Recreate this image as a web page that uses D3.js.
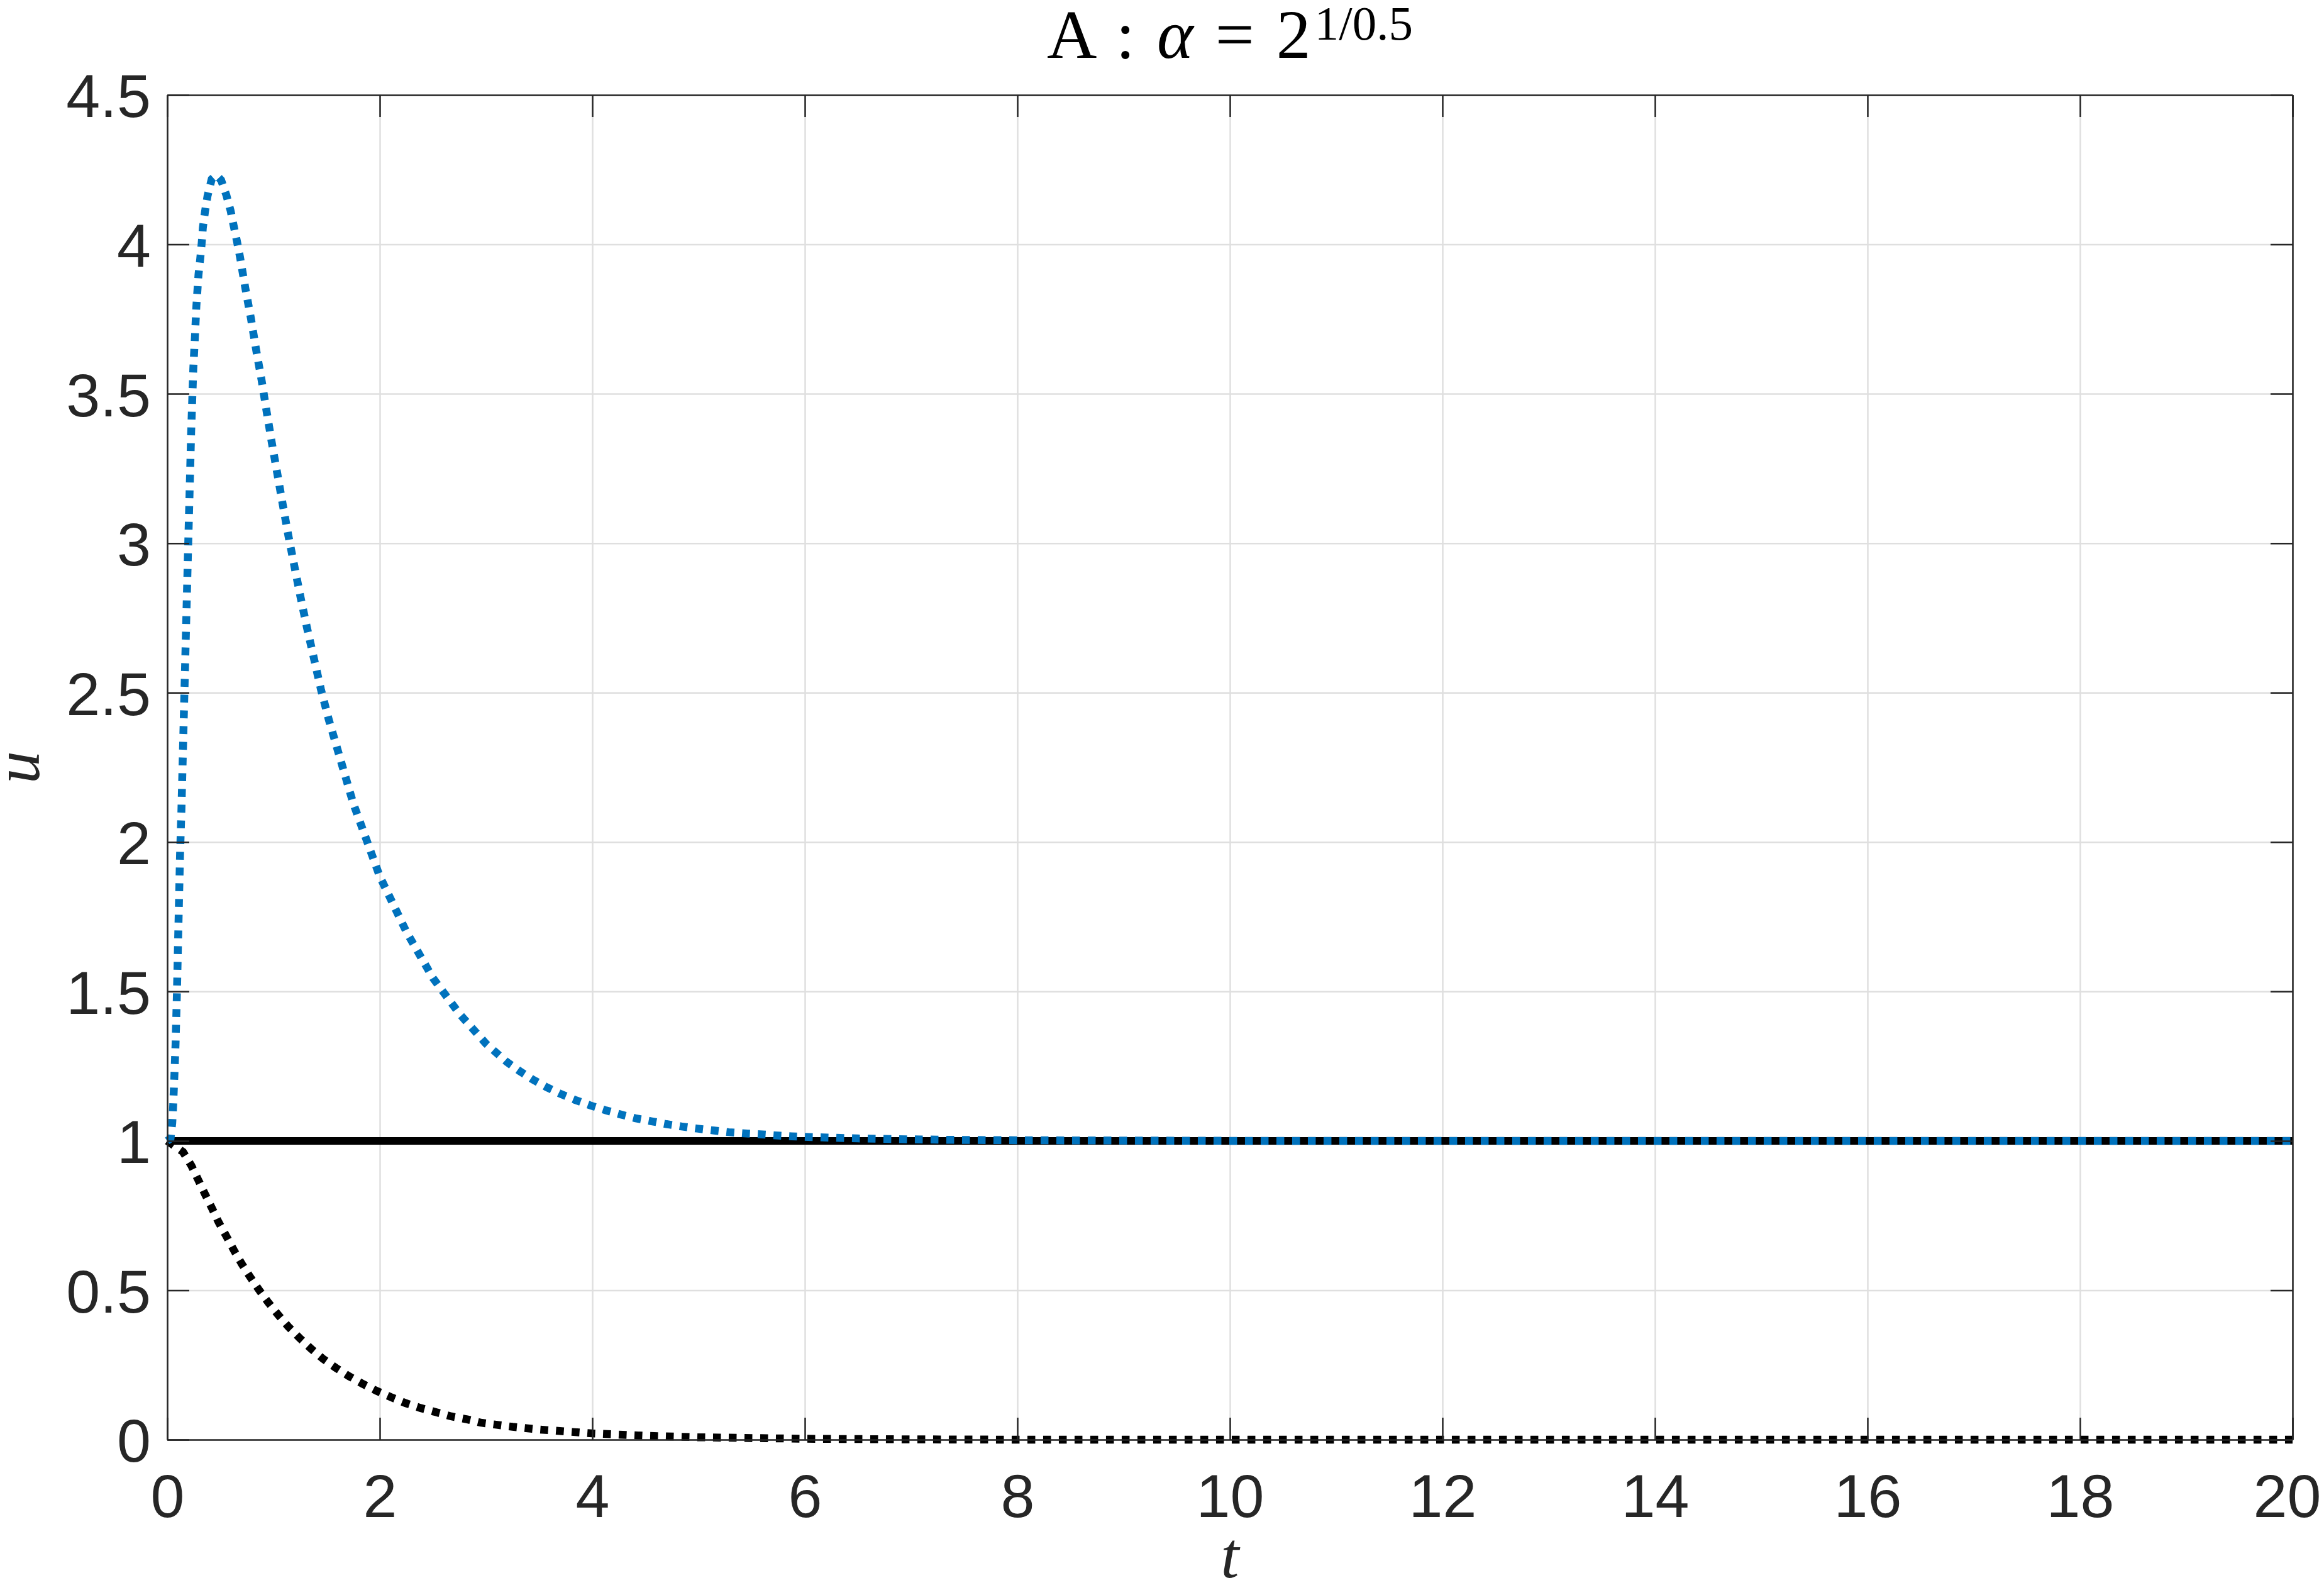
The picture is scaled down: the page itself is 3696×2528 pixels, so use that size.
<!DOCTYPE html>
<html>
<head>
<meta charset="utf-8">
<script src="https://cdn.jsdelivr.net/npm/d3@7"></script>
<style>
  body { margin: 0; background: #fff; }
</style>
</head>
<body>
<div id="chart"></div>
<script>
const width = 3696;
const height = 2528;
const margin = { top: 151, right: 50, bottom: 239, left: 266 };

// tick values
const xTicks = [0, 2, 4, 6, 8, 10, 12, 14, 16, 18, 20];
const yTicks = [0, 0.5, 1, 1.5, 2, 2.5, 3, 3.5, 4, 4.5];

// blue dotted curve
const tBlue = [0, 0.031, 0.047, 0.055, 0.067, 0.078, 0.090, 0.100, 0.110, 0.120, 0.133,
    0.150, 0.170, 0.190, 0.210, 0.225, 0.235, 0.245, 0.260, 0.274, 0.294, 0.310, 0.324,
    0.335, 0.355, 0.379, 0.418, 0.462, 0.507, 0.556, 0.596, 0.625, 0.655, 0.684, 0.734,
    0.787, 0.836, 0.888, 0.935, 0.984, 1.036, 1.087, 1.140, 1.197, 1.254, 1.315, 1.380,
    1.446, 1.519, 1.75, 2.0, 2.25, 2.5, 2.75, 3.0, 3.195, 3.314, 3.440, 3.568, 3.702,
    3.838, 3.978, 4.120, 4.260, 4.402, 4.550, 4.698, 4.842, 4.988, 5.136, 5.284, 5.432,
    5.580, 5.728, 5.876, 6.030, 6.5, 7, 7.5, 8, 9, 10, 20];
const uBlue = [1, 1.008, 1.060, 1.113, 1.218, 1.323, 1.481, 1.639, 1.796, 1.954, 2.103,
    2.34, 2.62, 2.90, 3.17, 3.373, 3.479, 3.584, 3.688, 3.794, 3.899, 3.951, 4.004,
    4.056, 4.109, 4.162, 4.218, 4.232, 4.215, 4.165, 4.113, 4.062, 4.012, 3.959, 3.855,
    3.753, 3.648, 3.545, 3.441, 3.336, 3.232, 3.129, 3.025, 2.922, 2.820, 2.717, 2.615,
    2.511, 2.411, 2.13, 1.885, 1.70, 1.545, 1.425, 1.325, 1.264, 1.234, 1.205, 1.180, 1.157,
    1.137, 1.119, 1.103, 1.089, 1.076, 1.066, 1.056, 1.048, 1.041, 1.035, 1.029, 1.025,
    1.022, 1.018, 1.015, 1.013, 1.008, 1.005, 1.003, 1.002, 1.001, 1, 1];

// black dotted curve
const tBlack = [0, 0.148, 0.227, 0.292, 0.355, 0.420, 0.483, 0.556, 0.627, 0.700, 0.779,
    0.864, 0.951, 1.041, 1.140, 1.243, 1.351, 1.465, 1.588, 1.712, 1.838, 1.972, 2.107,
    2.245, 2.383, 2.529, 2.673, 2.821, 2.949, 3.25, 3.5, 4, 4.5, 5, 6, 7, 8, 20];
const uBlack = [1, 0.963, 0.917, 0.869, 0.822, 0.775, 0.728, 0.681, 0.634, 0.589, 0.545,
    0.501, 0.459, 0.419, 0.378, 0.341, 0.305, 0.271, 0.240, 0.212, 0.187, 0.163, 0.142,
    0.122, 0.106, 0.092, 0.078, 0.068, 0.057, 0.043, 0.034, 0.021, 0.013, 0.008, 0.003,
    0.001, 0, 0];

// black solid line
const tSteady = [0, 20];
const uSteady = [1, 1];

const axisColor = "#262626";
const tickFont = "'Liberation Sans', Arial, Helvetica, sans-serif";
const mathFont = "'Liberation Serif', 'Times New Roman', serif";

const svg = d3.select("#chart")
    .append("svg")
    .attr("width", width)
    .attr("height", height);

const x = d3.scaleLinear()
    .domain([0, 20])
    .range([margin.left, width - margin.right]);

const y = d3.scaleLinear()
    .domain([0, 4.5])
    .range([height - margin.bottom, margin.top]);

const plotW = x(20) - x(0);
const plotH = y(0) - y(4.5);

// grid
svg.append("g")
    .attr("transform", `translate(0,${y(0)})`)
    .call(d3.axisBottom(x).tickValues(xTicks).tickSize(-plotH).tickFormat(""))
    .call(g => g.select(".domain").remove())
    .selectAll("line").attr("stroke", "#dfdfdf").attr("stroke-width", 2.5);

svg.append("g")
    .attr("transform", `translate(${x(0)},0)`)
    .call(d3.axisLeft(y).tickValues(yTicks).tickSize(-plotW).tickFormat(""))
    .call(g => g.select(".domain").remove())
    .selectAll("line").attr("stroke", "#dfdfdf").attr("stroke-width", 2.5);

// curves
const line = d3.line()
    .x(d => x(d[0]))
    .y(d => y(d[1]));

svg.append("path")
    .datum(d3.zip(tSteady, uSteady))
    .attr("d", line)
    .attr("fill", "none")
    .attr("stroke", "#000")
    .attr("stroke-width", 12);

svg.append("path")
    .datum(d3.zip(tBlack, uBlack))
    .attr("d", line)
    .attr("fill", "none")
    .attr("stroke", "#000")
    .attr("stroke-width", 12.5)
    .attr("stroke-dasharray", "12.5,12.5");

svg.append("path")
    .datum(d3.zip(tBlue, uBlue))
    .attr("d", line)
    .attr("fill", "none")
    .attr("stroke", "#0072BD")
    .attr("stroke-width", 12.5)
    .attr("stroke-dasharray", "12.5,12.5");

// axes (box with inward ticks)
function styleAxis(g) {
    g.select(".domain").attr("stroke", axisColor).attr("stroke-width", 2.5);
    g.selectAll(".tick line").attr("stroke", axisColor).attr("stroke-width", 2.5);
    g.selectAll(".tick text")
        .attr("fill", axisColor)
        .style("font-family", tickFont)
        .style("font-size", "97px");
}

const xAxis = svg.append("g")
    .attr("transform", `translate(0,${y(0)})`)
    .call(d3.axisBottom(x).tickValues(xTicks).tickSize(-35).tickSizeOuter(0).tickPadding(54).tickFormat(d => d))
    .call(styleAxis);

// keep the last label inside the picture
xAxis.selectAll(".tick text")
    .filter(d => d === 20)
    .attr("dx", -9);

svg.append("g")
    .attr("transform", `translate(0,${y(4.5)})`)
    .call(d3.axisTop(x).tickValues(xTicks).tickSize(-35).tickSizeOuter(0).tickFormat(""))
    .call(styleAxis);

svg.append("g")
    .attr("transform", `translate(${x(0)},0)`)
    .call(d3.axisLeft(y).tickValues(yTicks).tickSize(-35).tickSizeOuter(0).tickPadding(26).tickFormat(d => d))
    .call(styleAxis)
    .selectAll(".tick text").attr("dy", "0.36em");

svg.append("g")
    .attr("transform", `translate(${x(20)},0)`)
    .call(d3.axisRight(y).tickValues(yTicks).tickSize(-35).tickSizeOuter(0).tickFormat(""))
    .call(styleAxis);

// axis labels
svg.append("text")
    .attr("x", (x(0) + x(20)) / 2)
    .attr("y", 2508)
    .attr("text-anchor", "middle")
    .style("font-family", mathFont)
    .style("font-style", "italic")
    .style("font-size", "104px")
    .attr("fill", axisColor)
    .text("t");

svg.append("text")
    .attr("transform", `translate(62,${(y(0) + y(4.5)) / 2}) rotate(-90)`)
    .attr("text-anchor", "middle")
    .style("font-family", mathFont)
    .style("font-style", "italic")
    .style("font-size", "104px")
    .attr("fill", axisColor)
    .text("u");

// title  A : α = 2^{1/0.5}
const title = svg.append("text")
    .attr("x", (x(0) + x(20)) / 2)
    .attr("y", 92)
    .attr("text-anchor", "middle")
    .style("font-family", mathFont)
    .style("font-size", "110px")
    .attr("fill", "#000");

title.append("tspan").text("A");
title.append("tspan").attr("dx", 30).text(":");
title.append("tspan").attr("dx", 35).style("font-style", "italic").text("α");
title.append("tspan").attr("dx", 35).text("=");
title.append("tspan").attr("dx", 35).text("2");
title.append("tspan").attr("dx", 6).attr("dy", -29).style("font-size", "77px").text("1/0.5");
</script>
</body>
</html>
